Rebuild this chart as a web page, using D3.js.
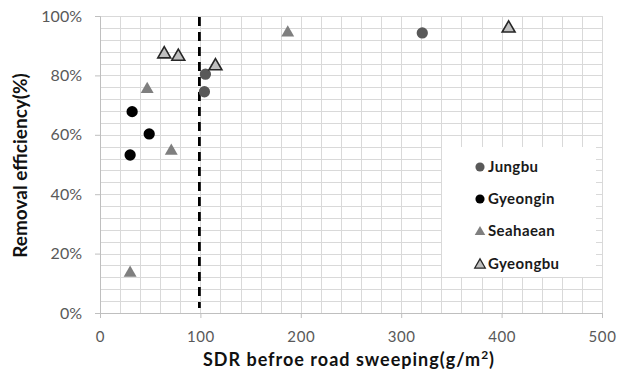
<!DOCTYPE html>
<html>
<head>
<meta charset="utf-8">
<script src="https://cdn.jsdelivr.net/npm/d3@7"></script>
<style>
  html, body { margin: 0; padding: 0; background: #fff; }
  svg { display: block; font-family: Lato, "Open Sans", sans-serif; }
</style>
</head>
<body>
<svg id="chart" width="630" height="379"></svg>
<script>
// SDR before sweeping (g/m²) and removal efficiency (fraction) per road
const jungbuSDR = [105, 104, 321];
const jungbuEff = [0.804, 0.745, 0.943];
const gyeonginSDR = [32, 49, 30];
const gyeonginEff = [0.678, 0.603, 0.532];
const seahaeanSDR = [47, 71, 30, 187];
const seahaeanEff = [0.757, 0.549, 0.138, 0.947];
const gyeongbuSDR = [64, 78, 115, 407];
const gyeongbuEff = [0.875, 0.867, 0.835, 0.962];

const seriesNames = ["Jungbu", "Gyeongin", "Seahaean", "Gyeongbu"];
const xTicks = [0, 100, 200, 300, 400, 500];
const yTicks = [0, 0.2, 0.4, 0.6, 0.8, 1.0];
const thresholdSDR = 100;

const series = [
  { name: seriesNames[0], xs: jungbuSDR, ys: jungbuEff, shape: d3.symbolCircle, fill: "#595959", stroke: "none" },
  { name: seriesNames[1], xs: gyeonginSDR, ys: gyeonginEff, shape: d3.symbolCircle, fill: "#000000", stroke: "none" },
  { name: seriesNames[2], xs: seahaeanSDR, ys: seahaeanEff, shape: d3.symbolTriangle, fill: "#7f7f7f", stroke: "none" },
  { name: seriesNames[3], xs: gyeongbuSDR, ys: gyeongbuEff, shape: d3.symbolTriangle, fill: "#bfbfbf", stroke: "#262626" }
];

const svg = d3.select("#chart");
const plotL = 100, plotR = 602, plotT = 16, plotB = 313;

const x = d3.scaleLinear().domain([0, 500]).range([plotL, plotR]);
const y = d3.scaleLinear().domain([0, 1]).range([plotB, plotT]);

// minor grid: every 20 g/m² and every 4 %
const gx = d3.range(0, 501, 20);
const gy = d3.range(0, 1.0001, 0.04);
const grid = svg.append("g").attr("stroke", "#d9d9d9").attr("stroke-width", 1);
grid.selectAll("line.v").data(gx).join("line").attr("class", "v")
  .attr("x1", d => Math.round(x(d)) + 0.5).attr("x2", d => Math.round(x(d)) + 0.5)
  .attr("y1", plotT).attr("y2", plotB);
grid.selectAll("line.h").data(gy).join("line").attr("class", "h")
  .attr("x1", plotL).attr("x2", plotR)
  .attr("y1", d => Math.round(y(d)) + 0.5).attr("y2", d => Math.round(y(d)) + 0.5);

// axes
const xAxis = d3.axisBottom(x).tickValues(xTicks).tickSize(5).tickPadding(13).tickFormat(d3.format("d"));
const yAxis = d3.axisLeft(y).tickValues(yTicks).tickSize(5).tickPadding(13).tickFormat(d3.format(".0%"));

const gX = svg.append("g").attr("transform", `translate(0,${plotB})`).call(xAxis);
const gY = svg.append("g").attr("transform", `translate(${plotL},0)`).call(yAxis);
[gX, gY].forEach(g => {
  g.select(".domain").attr("stroke", "#bfbfbf");
  g.selectAll(".tick line").attr("stroke", "#bfbfbf");
  g.selectAll(".tick text").attr("fill", "#595959").style("font-family", "Lato, sans-serif");
});
gX.selectAll(".tick text").style("font-size", "15px").style("letter-spacing", "0.6px");
gY.selectAll(".tick text").style("font-size", "16px");

// threshold line at SDR = 100
svg.append("line")
  .attr("x1", x(thresholdSDR) - 1).attr("x2", x(thresholdSDR) - 1)
  .attr("y1", plotT + 1).attr("y2", plotB - 5)
  .attr("stroke", "#000").attr("stroke-width", 2.8)
  .attr("stroke-dasharray", "9,6");

// points
series.forEach(s => {
  const pts = s.xs.map((v, i) => [v, s.ys[i]]);
  const isTri = s.shape === d3.symbolTriangle;
  svg.append("g").selectAll("path").data(pts).join("path")
    .attr("d", d3.symbol().type(s.shape).size(isTri ? 72 : 100))
    .attr("transform", d => `translate(${x(d[0])},${y(d[1]) + (isTri ? 1 : 0)})`)
    .attr("fill", s.fill)
    .attr("stroke", s.stroke)
    .attr("stroke-width", s.stroke === "none" ? 0 : 1.6);
});

// legend
const lg = svg.append("g");
lg.append("rect").attr("x", 442).attr("y", 147).attr("width", 154).attr("height", 130).attr("fill", "#fff");
const rowY = [167, 199, 231, 264];
series.forEach((s, i) => {
  const isTri = s.shape === d3.symbolTriangle;
  lg.append("path")
    .attr("d", d3.symbol().type(s.shape).size(isTri ? 48 : 66))
    .attr("transform", `translate(480,${rowY[i] + (isTri ? 1 : 0)})`)
    .attr("fill", s.fill).attr("stroke", s.stroke)
    .attr("stroke-width", s.stroke === "none" ? 0 : 1.3);
  lg.append("text")
    .attr("x", 488).attr("y", rowY[i]).attr("dy", "0.35em")
    .attr("fill", "#1a1a1a").style("font-size", "15px").style("font-weight", "bold")
    .style("letter-spacing", "0.4px")
    .text(s.name);
});

// axis titles
const xt = svg.append("text")
  .attr("x", (plotL + plotR) / 2 - 2).attr("y", 366)
  .attr("text-anchor", "middle").style("font-size", "18px").style("font-weight", "bold")
  .style("letter-spacing", "1px").attr("fill", "#111");
xt.append("tspan").text("SDR befroe road sweeping(g/m");
xt.append("tspan").attr("dy", "-7").style("font-size", "12px").text("2");
xt.append("tspan").attr("dy", "7").text(")");

svg.append("text")
  .attr("transform", `translate(27,${(plotT + plotB) / 2 + 1}) rotate(-90)`)
  .attr("text-anchor", "middle").style("font-size", "19px").style("font-weight", "bold").attr("fill", "#111")
  .text("Removal efficiency(%)");
</script>
</body>
</html>
